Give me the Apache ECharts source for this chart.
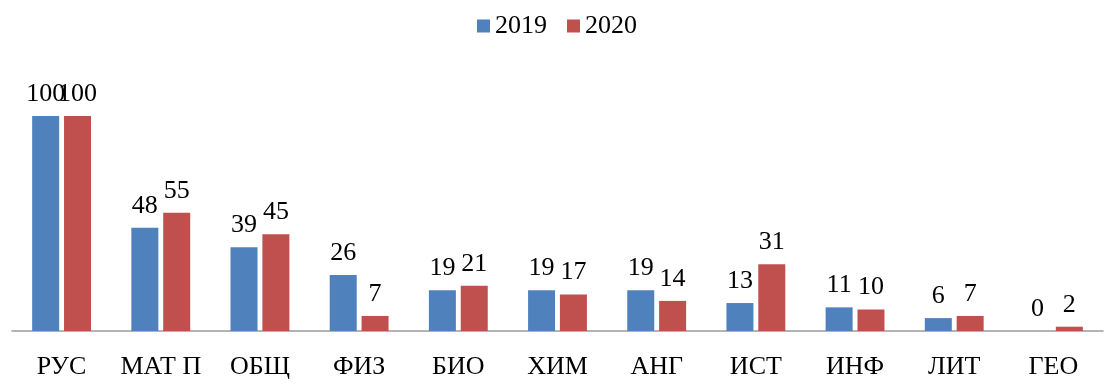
<!DOCTYPE html>
<html>
<head>
<meta charset="utf-8">
<script src="https://cdn.jsdelivr.net/npm/echarts@6/dist/echarts.min.js"></script>
<style>
  html, body { margin: 0; padding: 0; background: #fff; }
  #chart { width: 1114px; height: 388px; }
</style>
</head>
<body>
<div id="chart"></div>
<script>
// Subjects and results per year
const categories = ['РУС', 'МАТ П', 'ОБЩ', 'ФИЗ', 'БИО', 'ХИМ', 'АНГ', 'ИСТ', 'ИНФ', 'ЛИТ', 'ГЕО'];
const values2019 = [100, 48, 39, 26, 19, 19, 19, 13, 11, 6, 0];
const values2020 = [100, 55, 45, 7, 21, 17, 14, 31, 10, 7, 2];
const seriesNames = ['2019', '2020'];

const FONT = '"Liberation Serif", "Times New Roman", serif';

const labelStyle = {
  show: true,
  position: 'top',
  distance: 9,
  fontFamily: FONT,
  fontSize: 26,
  color: '#000'
};

const chart = echarts.init(document.getElementById('chart'));
chart.setOption({
  animation: false,
  legend: {
    top: 8,
    left: 'center',
    itemWidth: 13,
    itemHeight: 13,
    itemGap: 20,
    icon: 'rect',
    textStyle: { fontFamily: FONT, fontSize: 26, color: '#000' },
    data: seriesNames
  },
  grid: { left: 12, right: 11, top: 116, bottom: 57 },
  xAxis: {
    type: 'category',
    data: categories,
    axisLine: { lineStyle: { color: '#9a9a9a', width: 1.5 } },
    axisTick: { show: false },
    axisLabel: { interval: 0, fontFamily: FONT, fontSize: 26, color: '#000', margin: 23 }
  },
  yAxis: {
    type: 'value',
    min: 0,
    max: 100,
    show: false,
    splitLine: { show: false }
  },
  series: [
    {
      name: seriesNames[0],
      type: 'bar',
      data: values2019,
      barWidth: 27,
      barGap: '18%',
      itemStyle: { color: '#4F81BD' },
      label: labelStyle
    },
    {
      name: seriesNames[1],
      type: 'bar',
      data: values2020,
      barWidth: 27,
      barGap: '18%',
      itemStyle: { color: '#C0504D' },
      label: labelStyle
    }
  ]
});
</script>
</body>
</html>
